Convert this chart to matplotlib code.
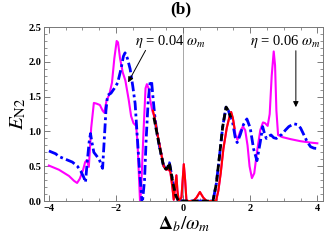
import numpy as np
import matplotlib
matplotlib.use("Agg")
import matplotlib.pyplot as plt

plt.rcParams['font.family'] = 'Liberation Serif'
plt.rcParams['mathtext.fontset'] = 'stix'

# eta = 0.04 (magenta, solid)
mag_x = [-4.0, -3.7, -3.4, -3.25, -3.16, -3.08, -2.98, -2.92, -2.87, -2.81, -2.74, -2.66,
         -2.58, -2.48, -2.40, -2.35, -2.28, -2.20, -2.12, -2.05, -1.98, -1.94, -1.88, -1.80,
         -1.72, -1.62, -1.55, -1.48, -1.40, -1.36, -1.32, -1.28, -1.24, -1.18, -1.12, -1.08,
         -1.03, -0.98, -0.92, -0.85, -0.78, -0.68, -0.58, -0.50, -0.44, -0.38, -0.32, -0.28,
         -0.24, -0.20, -0.17, -0.13, -0.05, 0.02, 0.06, 0.10, 0.30, 0.40, 0.50, 0.60, 0.70,
         0.98, 1.05, 1.12, 1.20, 1.30, 1.38, 1.43, 1.50, 1.56, 1.62, 1.70, 1.78, 1.85, 1.92,
         1.98, 2.05, 2.12, 2.20, 2.30, 2.38, 2.44, 2.52, 2.58, 2.64, 2.70, 2.74, 2.78, 2.83,
         2.95, 3.2, 3.5, 3.8, 4.0]
mag_y = [0.51, 0.45, 0.36, 0.29, 0.26, 0.32, 0.45, 0.56, 0.59, 0.49, 1.05, 1.41,
         1.40, 1.38, 1.30, 1.27, 1.45, 1.53, 1.70, 2.05, 2.30, 2.28, 2.05, 1.85,
         1.73, 1.45, 1.22, 1.12, 1.08, 0.85, 0.40, -0.05, 0.30, 1.00, 1.62, 1.68,
         1.62, 1.45, 1.30, 1.20, 1.00, 0.75, 0.50, 0.45, 0.46, 0.42, 0.20, 0.02,
         0.20, 0.37, 0.15, 0.0, 0.05, 0.53, 0.30, 0.0, 0.0, 0.05, 0.13, 0.05, 0.0,
         0.0, 0.15, 0.40, 0.75, 1.05, 1.21, 1.28, 1.15, 0.95, 0.88, 1.00, 1.07, 1.02, 0.80,
         0.50, 0.33, 0.40, 0.70, 1.02, 1.13, 1.12, 1.08, 1.25, 1.80, 2.15, 1.95, 1.30, 0.95,
         0.92, 0.89, 0.86, 0.84, 0.83]

# eta = 0.06 (blue, dash-dot)
blue_x = [-4.0, -3.9, -3.8, -3.7, -3.6, -3.45, -3.3, -3.15, -3.05, -2.96, -2.91, -2.86,
          -2.80, -2.76, -2.72, -2.66, -2.58, -2.50, -2.44, -2.40, -2.36, -2.30, -2.25, -2.15,
          -2.05, -1.95, -1.85, -1.78, -1.73, -1.66, -1.58, -1.50, -1.43, -1.37, -1.30, -1.22,
          -1.15, -1.10, -1.04, -0.98, -0.94, -0.90, -0.85, -0.79, -0.69, -0.59, -0.52, -0.47,
          -0.41, -0.36, -0.30, -0.22, -0.15, 0.0, 0.89, 0.99, 1.08, 1.18, 1.28, 1.35, 1.42,
          1.48, 1.55, 1.61, 1.70, 1.80, 1.90, 2.00, 2.10, 2.20, 2.30, 2.37, 2.42, 2.48, 2.55,
          2.62, 2.70, 2.78, 2.85, 2.95, 3.05, 3.15, 3.30, 3.40, 3.50, 3.60, 3.70, 3.80, 3.90, 4.0]
blue_y = [0.72, 0.70, 0.68, 0.64, 0.62, 0.59, 0.56, 0.50, 0.43, 0.34, 0.27, 0.55,
          0.85, 0.97, 0.85, 0.70, 0.65, 0.60, 0.52, 0.47, 0.80, 1.30, 1.52, 1.55,
          1.62, 1.70, 1.90, 2.08, 2.13, 2.05, 1.90, 1.65, 1.40, 0.95, 0.45, -0.05,
          0.30, 0.90, 1.45, 1.72, 1.72, 1.50, 1.25, 1.00, 0.75, 0.52, 0.46, 0.47,
          0.55, 0.42, 0.25, 0.08, 0.01, 0.0, 0.0, 0.25, 0.63, 1.07, 1.35, 1.30, 1.20,
          1.12, 0.92, 0.84, 0.95, 1.10, 1.18, 1.05, 0.75, 0.58, 0.85, 1.07, 0.98, 0.90, 0.93,
          0.95, 0.91, 0.90, 0.93, 0.96, 1.02, 1.07, 1.11, 1.10, 1.05, 0.95, 0.85, 0.78, 0.76, 0.755]

# red (solid) middle part
red_x = [-0.90, -0.85, -0.78, -0.68, -0.58, -0.50, -0.44, -0.38, -0.32, -0.28, -0.24, -0.20,
         -0.17, -0.13, -0.05, 0.02, 0.06, 0.10, 0.30, 0.40, 0.50, 0.60, 0.70, 0.98, 1.05,
         1.12, 1.20, 1.30, 1.38, 1.43, 1.48, 1.53]
red_y = [1.30, 1.20, 1.00, 0.75, 0.50, 0.45, 0.46, 0.42, 0.20, 0.02, 0.20, 0.37,
         0.15, 0.0, 0.05, 0.53, 0.30, 0.0, 0.0, 0.05, 0.13, 0.05, 0.0, 0.0, 0.15,
         0.40, 0.75, 1.05, 1.21, 1.28, 1.20, 1.05]

# black (dashed) middle part
blk_x = [-0.87, -0.79, -0.69, -0.59, -0.52, -0.47, -0.41, -0.36, -0.30, -0.22, -0.15, 0.0,
         0.89, 0.99, 1.08, 1.18, 1.28, 1.35, 1.42]
blk_y = [1.20, 1.00, 0.75, 0.52, 0.46, 0.47, 0.55, 0.42, 0.25, 0.08, 0.01, 0.0,
         0.0, 0.25, 0.63, 1.07, 1.35, 1.30, 1.20]

fig = plt.figure(figsize=(3.25, 2.44), dpi=100)
ax = fig.add_axes([0.136, 0.176, 0.859, 0.713])

ax.axvline(0, color='#999999', lw=0.6, zorder=0)
ax.plot(mag_x, mag_y, color='#FF00FF', lw=1.5, zorder=2)
ax.plot(blue_x, blue_y, color='#0000FF', lw=2.0, dashes=(3.5, 1.2, 1.0, 1.2), zorder=3)
ax.plot(red_x, red_y, color='#FF0000', lw=1.5, zorder=4)
ax.plot(blk_x, blk_y, color='black', lw=2.0, dashes=(2.5, 1.2), zorder=5)

ax.set_xlim(-4.14, 4.18)
ax.set_ylim(0, 2.5)
ax.set_xticks([-4, -2, 0, 2, 4])
ax.set_xticks(np.arange(-4, 4.01, 0.5), minor=True)
ax.set_yticks(np.arange(0, 2.51, 0.5))
ax.set_yticks(np.arange(0, 2.51, 0.1), minor=True)
ax.set_xticklabels(['\u22124', '\u22122', '0', '2', '4'])
ax.set_yticklabels(['0.0', '0.5', '1.0', '1.5', '2.0', '2.5'])
ax.tick_params(which='both', direction='in', top=True, right=True, color='#666666')
ax.tick_params(which='major', length=4, width=0.6, labelsize=7.5, pad=2)
ax.tick_params(which='minor', length=2, width=0.5)
for lab in ax.get_xticklabels() + ax.get_yticklabels():
    lab.set_fontweight('bold')
for sp in ax.spines.values():
    sp.set_color('#777777')
    sp.set_linewidth(0.7)

ax.set_xlabel(r'$\mathbf{\Delta}_b/\omega_m$', fontsize=14, labelpad=1)
ax.set_ylabel(r'$E_{\mathrm{N2}}$', fontsize=15, labelpad=0)
fig.suptitle('(b)', x=0.555, y=0.995, fontsize=12.5, fontweight='bold')

ax.annotate('', xy=(-1.68, 1.67), xytext=(-1.08, 2.2),
            arrowprops=dict(arrowstyle='-|>', color='black', lw=0.7, mutation_scale=8))
ax.text(-1.42, 2.29, r'$\eta$ = 0.04 $\omega_m$', fontsize=10.5, va='center', ha='left')
ax.annotate('', xy=(3.36, 1.31), xytext=(3.36, 2.2),
            arrowprops=dict(arrowstyle='-|>', color='black', lw=0.7, mutation_scale=8))
ax.text(2.0, 2.29, r'$\eta$ = 0.06 $\omega_m$', fontsize=10.5, va='center', ha='left')

fig.savefig('out.png', dpi=100)
